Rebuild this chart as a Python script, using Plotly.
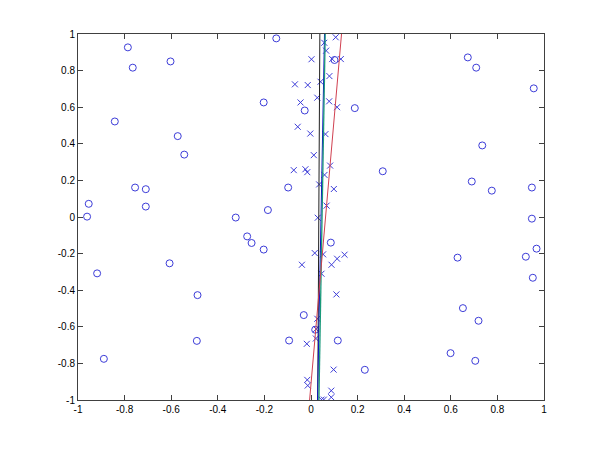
import plotly.graph_objects as go

# Class 1 (crosses)
cross_x = [0.106, 0.057, 0.065, 0.002, 0.091, 0.128, 0.079, 0.041, -0.069, -0.014,
           0.027, 0.078, -0.045, 0.112, -0.057, -0.003, 0.062, 0.012, 0.082, -0.074,
           -0.024, -0.016, 0.058, 0.035, 0.098, 0.067, 0.029, 0.016, 0.052, -0.039,
           0.088, 0.112, 0.144, 0.045, 0.109, 0.027, 0.021, -0.018, 0.097, -0.016,
           -0.014, 0.087, 0.087, 0.055, 0.045, 0.022]
cross_y = [0.982, 0.952, 0.909, 0.862, 0.863, 0.863, 0.770, 0.739, 0.725, 0.721,
           0.652, 0.632, 0.626, 0.600, 0.493, 0.456, 0.453, 0.338, 0.281, 0.256,
           0.261, 0.245, 0.230, 0.178, 0.153, 0.062, -0.004, -0.197, -0.204, -0.261,
           -0.261, -0.228, -0.206, -0.310, -0.423, -0.556, -0.664, -0.693, -0.834, -0.890,
           -0.921, -0.949, -0.985, -0.998, -0.998, -0.612]

# Class 2 (circles)
circle_x = [-0.786, -0.765, -0.603, -0.842, -0.572, -0.544, -0.755, -0.709, -0.709, -0.954,
            -0.961, -0.918, -0.607, -0.487, -0.490, -0.889,
            -0.149, -0.203, -0.027, -0.098, -0.185, -0.323, -0.274, -0.255, -0.203,
            0.101, 0.188, 0.085, -0.031, 0.018, -0.094, 0.115, 0.231,
            0.673, 0.709, 0.956, 0.735, 0.308, 0.690, 0.776, 0.948,
            0.948, 0.968, 0.922, 0.629, 0.952, 0.652, 0.719, 0.599, 0.705]
circle_y = [0.927, 0.816, 0.850, 0.522, 0.442, 0.341, 0.161, 0.152, 0.057, 0.072,
            0.002, -0.308, -0.253, -0.427, -0.677, -0.775,
            0.976, 0.626, 0.582, 0.161, 0.038, -0.003, -0.106, -0.142, -0.178,
            0.858, 0.595, -0.140, -0.536, -0.616, -0.675, -0.675, -0.835,
            0.872, 0.816, 0.703, 0.391, 0.250, 0.194, 0.144, 0.161,
            -0.009, -0.173, -0.217, -0.222, -0.332, -0.498, -0.567, -0.744, -0.786]

# Decision boundaries (endpoints at y=-1 and y=1)
line_y = [-1, 1]
black_x = [0.029, 0.038]
blue_x = [0.028, 0.058]
green_x = [0.034, 0.061]
red_x = [-0.006, 0.131]

tick_vals = [-1, -0.8, -0.6, -0.4, -0.2, 0, 0.2, 0.4, 0.6, 0.8, 1]
tick_text = ["-1", "-0.8", "-0.6", "-0.4", "-0.2", "0", "0.2", "0.4", "0.6", "0.8", "1"]

fig = go.Figure()
fig.add_trace(go.Scatter(x=cross_x, y=cross_y, mode="markers",
                         marker=dict(symbol="x-thin-open", size=6, color="#3c3cd8",
                                     line=dict(width=1, color="#3c3cd8"))))
fig.add_trace(go.Scatter(x=circle_x, y=circle_y, mode="markers",
                         marker=dict(symbol="circle-open", size=7, color="#3c3cd8",
                                     line=dict(width=1, color="#3c3cd8"))))
fig.add_trace(go.Scatter(x=black_x, y=line_y, mode="lines", line=dict(color="#202020", width=1)))
fig.add_trace(go.Scatter(x=blue_x, y=line_y, mode="lines", line=dict(color="#1010c0", width=1)))
fig.add_trace(go.Scatter(x=green_x, y=line_y, mode="lines", line=dict(color="#1a9a7a", width=1.3)))
fig.add_trace(go.Scatter(x=red_x, y=line_y, mode="lines", line=dict(color="#d04050", width=1)))

axis_common = dict(range=[-1, 1], tickmode="array", tickvals=tick_vals, ticktext=tick_text,
                   ticks="inside", ticklen=5, tickcolor="#404040", showgrid=False, zeroline=False,
                   showline=True, linecolor="#404040", linewidth=1, mirror="ticks",
                   tickfont=dict(family="Liberation Sans, Arial, sans-serif", size=10, color="black"))

fig.update_layout(
    width=592, height=442,
    margin=dict(l=70, r=56, t=26, b=50),
    paper_bgcolor="white", plot_bgcolor="white",
    showlegend=False,
    xaxis=dict(**axis_common),
    yaxis=dict(**axis_common),
)
fig.write_html("out.html")
